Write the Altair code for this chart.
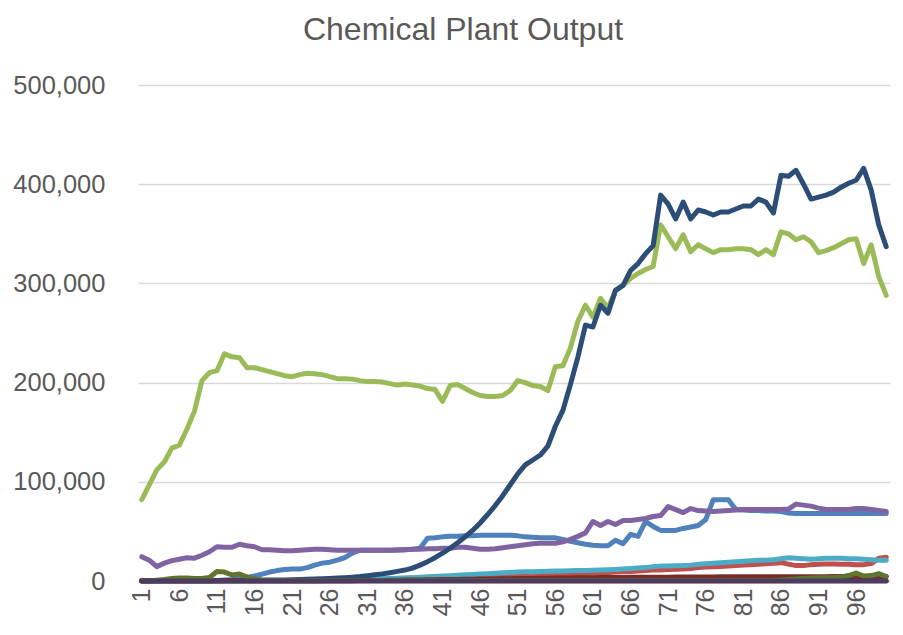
import altair as alt
import pandas as pd

periods = list(range(1, 101))

series_names = ["Series1", "Series2", "Series3", "Series4", "Series5",
                "Series6", "Series7", "Series8", "Series9", "Series10"]
series_colors = ["#4F81BD", "#C0504D", "#9BBB59", "#8064A2", "#4BACC6",
                 "#F79646", "#2C4D75", "#772C2A", "#5F7530", "#4D3B62"]

s_blue = [200, 200, 200, 200, 200, 200, 200, 200, 200, 200,
          500, 1000, 1500, 2500, 3500, 5000, 7000, 9000, 10500, 11500,
          12000, 12000, 13500, 16000, 18000, 19000, 21000, 23500, 28000, 31000,
          31000, 31000, 31000, 31000, 31000, 31500, 32000, 33000, 43000, 43500,
          44500, 45000, 45000, 45500, 45500, 46000, 46000, 46000, 46000, 46000,
          45500, 44500, 44000, 43500, 43500, 43500, 42000, 40000, 38500, 37000,
          36000, 35500, 35500, 41000, 37500, 47000, 45000, 60000, 55000, 51000,
          51000, 51000, 53000, 54500, 56000, 62000, 82000, 82000, 82000, 72000,
          71500, 71000, 71000, 70500, 70500, 70000, 68500, 68000, 68000, 68000,
          68000, 68000, 68000, 68000, 68000, 68000, 68000, 68000, 68000, 68000]

s_red = [500, 500, 500, 500, 500, 500, 500, 500, 500, 500,
         500, 500, 500, 500, 500, 500, 500, 500, 500, 500,
         600, 700, 800, 900, 1000, 1100, 1200, 1300, 1400, 1500,
         1700, 1900, 2100, 2300, 2500, 2700, 2900, 3100, 3300, 3500,
         3700, 3900, 4100, 4300, 4500, 4700, 4900, 5100, 5400, 5800,
         6200, 6400, 6600, 6800, 7000, 7100, 7200, 7300, 7500, 7600,
         7800, 8000, 8500, 9000, 9300, 9500, 10000, 10500, 11000, 11200,
         11500, 11800, 12200, 12700, 13500, 14000, 14300, 14600, 15000, 15500,
         16000, 16500, 17000, 17500, 18000, 18500, 17000, 15500, 15500, 16500,
         17000, 17200, 17200, 17000, 16800, 16500, 16500, 17500, 23000, 24000]

s_green = [82000, 97000, 112000, 120000, 134000, 137000, 153000, 171000, 202000, 210000,
           212000, 229000, 226000, 225000, 215000, 215000, 213000, 211000, 209000, 207000,
           206000, 208000, 209500, 209000, 208000, 206000, 204000, 204000, 203500, 202000,
           201000, 201000, 200500, 199000, 197500, 198500, 197500, 196500, 194000, 193000,
           181000, 197000, 198000, 194000, 190000, 187000, 186000, 186000, 187000, 192000,
           202000, 200000, 197000, 196000, 192000, 216000, 217000, 235000, 262000, 278000,
           266000, 285000, 275000, 293000, 298000, 305000, 310000, 314000, 317000, 359000,
           347000, 335000, 349000, 332000, 339000, 335000, 331000, 334000, 334000, 335000,
           335000, 334000, 329000, 334000, 329000, 352000, 350000, 344000, 347000, 342000,
           331000, 333000, 336000, 340000, 344000, 345000, 320000, 339000, 307000, 288000]

s_purple = [24500, 21000, 14500, 18000, 20500, 22000, 23500, 23000, 26000, 29500,
            34500, 34000, 34000, 37000, 35500, 34500, 31500, 31500, 31000, 30500,
            30500, 31000, 31500, 32000, 32000, 31500, 31000, 31000, 31000, 31000,
            31000, 31000, 31000, 31000, 31500, 31500, 32000, 32000, 32500, 32500,
            33000, 33000, 34000, 34000, 33000, 32000, 32000, 32500, 33500, 34500,
            35500, 36500, 37500, 38000, 38000, 38000, 39500, 42000, 45000, 48500,
            60000, 56000, 60000, 57000, 61000, 61000, 62000, 63000, 65000, 66000,
            75000, 72000, 69000, 73000, 71000, 70500, 70000, 70500, 71000, 71500,
            72000, 72000, 72000, 72000, 72000, 72000, 72500, 77500, 76500, 75500,
            73500, 72000, 72000, 72000, 72000, 73000, 73000, 72000, 71000, 70000]

s_aqua = [0, 0, 0, 0, 0, 0, 0, 0, 0, 0,
          0, 0, 0, 0, 0, 0, 0, 0, 0, 0,
          0, 0, 0, 0, 300, 500, 700, 900, 1100, 1300,
          1600, 1900, 2200, 2500, 2800, 3100, 3400, 3800, 4200, 4600,
          5000, 5400, 5800, 6200, 6600, 7000, 7400, 7800, 8200, 8600,
          9000, 9200, 9400, 9600, 9800, 10000, 10200, 10400, 10500, 10600,
          10800, 11000, 11300, 11600, 12000, 12500, 13000, 13500, 14500, 15000,
          15200, 15400, 15600, 16000, 17000, 17500, 18000, 18500, 19000, 19500,
          20000, 20500, 21000, 21000, 21500, 22500, 23500, 23000, 22500, 22000,
          22500, 23000, 23000, 23000, 22500, 22500, 22000, 21500, 21000, 21000]

s_orange = [800, 600, 500, 400, 300, 300, 300, 300, 300, 300,
            300, 300, 300, 300, 300, 300, 300, 300, 300, 300,
            300, 300, 300, 300, 300, 300, 300, 300, 300, 300,
            300, 300, 300, 300, 300, 300, 300, 300, 300, 300,
            300, 300, 300, 300, 300, 300, 300, 300, 300, 300,
            300, 300, 300, 300, 300, 300, 300, 300, 300, 300,
            300, 300, 300, 300, 300, 300, 300, 300, 300, 300,
            300, 300, 300, 300, 300, 300, 300, 300, 300, 300,
            300, 300, 300, 300, 300, 300, 300, 300, 300, 300,
            300, 300, 300, 300, 300, 300, 300, 300, 300, 300]

s_navy = [100, 100, 150, 150, 200, 200, 250, 300, 300, 350,
          400, 450, 500, 550, 600, 700, 800, 900, 1000, 1100,
          1300, 1500, 1700, 2000, 2300, 2600, 3000, 3400, 3900, 4500,
          5300, 6200, 7200, 8400, 9700, 11000, 13000, 16000, 19500, 23500,
          28000, 33000, 38500, 44500, 51000, 58500, 67000, 76000, 86000, 97000,
          108000, 117000, 122000, 127000, 136000, 156000, 172000, 198000, 226000, 258000,
          256000, 278000, 270000, 293000, 298000, 313000, 320000, 330000, 338000, 389000,
          380000, 365000, 382000, 365000, 374000, 372000, 369000, 372000, 372000, 375000,
          378000, 378000, 385000, 382000, 371000, 409000, 408000, 414000, 400000, 385000,
          387000, 389000, 392000, 397000, 401000, 404000, 416000, 394000, 359000, 337000]

s_darkred = [200, 200, 200, 200, 200, 200, 200, 200, 200, 200,
             200, 200, 200, 200, 200, 200, 200, 200, 200, 200,
             200, 200, 200, 200, 200, 200, 300, 300, 300, 400,
             400, 500, 600, 700, 800, 900, 1000, 1100, 1200, 1300,
             1400, 1500, 1600, 1700, 1800, 1900, 2000, 2100, 2200, 2300,
             2400, 2500, 2600, 2700, 2800, 2900, 3000, 3100, 3200, 3300,
             3400, 3500, 3500, 3600, 3600, 3700, 3700, 3800, 3800, 3900,
             3900, 4000, 4000, 4000, 4100, 4100, 4100, 4200, 4200, 4200,
             4200, 4300, 4300, 4300, 4300, 4300, 4400, 4400, 4400, 4400,
             4400, 4400, 4500, 4500, 4500, 4500, 4600, 4600, 4600, 4500]

s_darkgreen = [0, 200, 800, 1500, 2500, 3000, 3000, 2500, 2500, 3500,
               9500, 9000, 6000, 7000, 4000, 2000, 1000, 500, 400, 400,
               400, 400, 400, 400, 400, 400, 400, 400, 400, 400,
               400, 400, 400, 400, 400, 400, 400, 400, 400, 400,
               400, 400, 400, 400, 400, 400, 400, 400, 400, 400,
               400, 400, 400, 400, 400, 400, 400, 400, 400, 400,
               400, 400, 400, 400, 400, 400, 400, 400, 400, 400,
               400, 400, 400, 400, 400, 400, 400, 400, 400, 500,
               500, 500, 600, 600, 700, 1000, 1500, 2000, 2500, 3000,
               3200, 3400, 3600, 4000, 5500, 8000, 5000, 5500, 7500, 4500]

s_darkpurple = [0] * 100

all_series = [s_blue, s_red, s_green, s_purple, s_aqua,
              s_orange, s_navy, s_darkred, s_darkgreen, s_darkpurple]

rows = []
for name, vals in zip(series_names, all_series):
    for p, v in zip(periods, vals):
        rows.append({"period": p, "series": name, "value": v})
df = pd.DataFrame(rows)

x_ticks = list(range(1, 101, 5))
y_ticks = [0, 100000, 200000, 300000, 400000, 500000]

x_enc = alt.X(
    "period:Q",
    scale=alt.Scale(domain=[0.5, 100.5], nice=False, zero=False),
    axis=alt.Axis(values=x_ticks, labelAngle=270, labelPadding=7, grid=False,
                  ticks=False, tickSize=0, domain=True, domainColor="#d9d9d9",
                  domainWidth=1.5, labelFlush=False, labelOverlap=False,
                  title=None, format="d"),
)
y_enc = alt.Y(
    "value:Q",
    scale=alt.Scale(domain=[0, 500000], nice=False),
    axis=alt.Axis(values=y_ticks, format=",d", grid=True, gridColor="#d9d9d9",
                  gridWidth=1.5, ticks=False, tickSize=0, domain=False,
                  labelPadding=33, labelFlush=False, labelOverlap=False,
                  labelFontSize=25.5, title=None),
)

base = alt.Chart(df)
layers = []
for name, color in zip(series_names, series_colors):
    layers.append(
        base.transform_filter(alt.datum.series == name)
        .mark_line(color=color, strokeWidth=5, strokeCap="round", strokeJoin="round")
        .encode(x=x_enc, y=y_enc)
    )

chart = (
    alt.layer(*layers)
    .properties(
        width=752,
        height=496,
        title=alt.TitleParams(
            "Chemical Plant Output",
            font="Liberation Sans",
            fontSize=32,
            fontWeight="normal",
            color="#595959",
            anchor="middle",
            frame="group",
            dx=-51,
            baseline="alphabetic",
            offset=1,
        ),
        autosize=alt.AutoSizeParams(type="none"),
        padding={"left": 130, "top": 77, "right": 5, "bottom": 42},
    )
    .configure_view(stroke=None)
    .configure_axis(labelFont="Liberation Sans", labelFontSize=25, labelColor="#595959")
)

chart.save("out.html", embed_options={"renderer": "svg", "actions": False})
